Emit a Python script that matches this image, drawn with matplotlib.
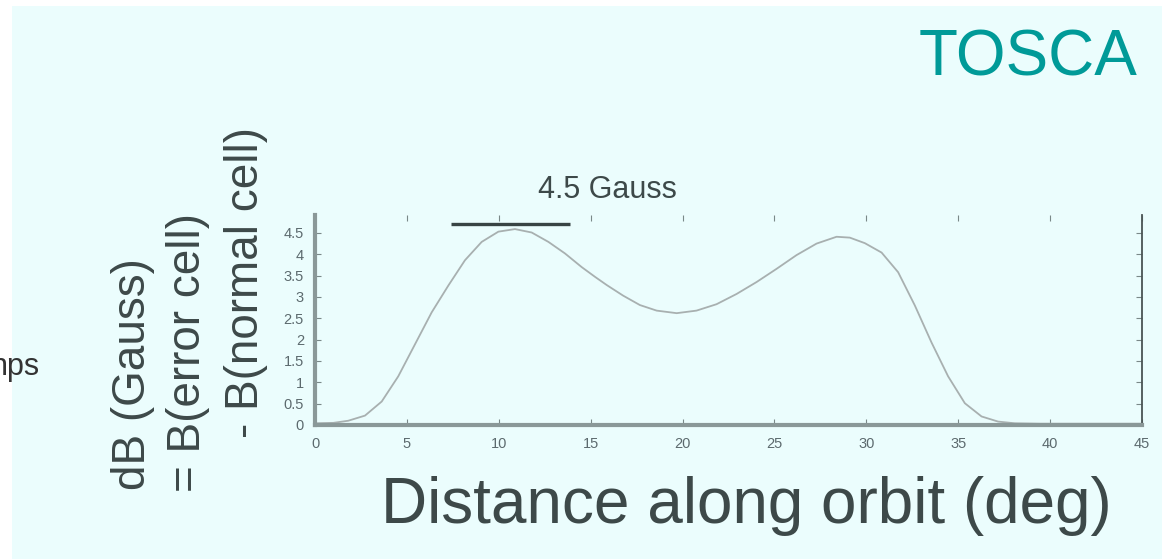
import numpy as np
import matplotlib
matplotlib.use("Agg")
import matplotlib.pyplot as plt
from matplotlib.patches import Rectangle

plt.rcParams['font.family'] = ['Liberation Sans', 'DejaVu Sans']

# field difference
dist_deg = [0, 1, 1.81, 2.72, 3.63, 4.53, 5.44, 6.35, 7.26, 8.16, 9.07,
            9.98, 10.88, 11.79, 12.7, 13.6, 14.51, 15.24, 15.87, 16.77,
            17.68, 18.59, 19.68, 20.76, 21.85, 22.94, 24.03, 25.12, 26.2,
            27.29, 28.38, 29.1, 29.92, 30.83, 31.73, 32.64, 33.55, 34.45,
            35.36, 36.27, 37.17, 38.08, 39.5, 45]
dB_gauss = [0.04, 0.05, 0.1, 0.22, 0.55, 1.14, 1.89, 2.64, 3.27, 3.86, 4.29,
            4.53, 4.59, 4.51, 4.29, 4.02, 3.7, 3.47, 3.28, 3.03, 2.81, 2.68,
            2.62, 2.68, 2.83, 3.07, 3.35, 3.66, 3.98, 4.25, 4.41, 4.39,
            4.26, 4.04, 3.58, 2.8, 1.93, 1.14, 0.51, 0.2, 0.08, 0.04, 0.03,
            0.03]

# width marker at the top
bar_x = [7.4, 13.9]
bar_y = [4.72, 4.72]

x_ticks = [0, 5, 10, 15, 20, 25, 30, 35, 40, 45]
y_ticks = [0, 0.5, 1, 1.5, 2, 2.5, 3, 3.5, 4, 4.5]
y_tick_labels = ['0', '0.5', '1', '1.5', '2', '2.5', '3', '3.5', '4', '4.5']

W, H = 1162, 559
bg = '#ebfdfd'
text_col = '#3d4949'

fig = plt.figure(figsize=(W / 100, H / 100), dpi=100)
fig.patch.set_facecolor('white')
fig.add_artist(Rectangle((12 / W, 0), 1 - 12 / W, 1 - 6 / H,
                         transform=fig.transFigure, facecolor=bg,
                         edgecolor='none', zorder=0))

ax = fig.add_axes([315 / W, 1 - 425 / H, 827 / W, 210 / H])
ax.patch.set_visible(False)

ax.plot(dist_deg, dB_gauss, color='#a8b0b0', lw=1.3, solid_joinstyle='round')
ax.plot(bar_x, bar_y, color='#384444', lw=2.4, solid_capstyle='butt',
        clip_on=False)

ax.set_xlim(0, 45)
ax.set_ylim(0, 4.92)
ax.set_xticks(x_ticks)
ax.set_yticks(y_ticks)
ax.set_yticklabels(y_tick_labels)

for side in ['left', 'bottom']:
    ax.spines[side].set_color('#8a9898')
    ax.spines[side].set_linewidth(3)
ax.spines['right'].set_color('#4a5454')
ax.spines['right'].set_linewidth(1.3)
ax.spines['top'].set_visible(False)

ax.tick_params(axis='both', direction='in', length=4, width=0.8,
               color='#7a8888', labelsize=10.5, labelcolor='#5c6a6e')
ax.tick_params(axis='x', top=True, pad=9)
ax.tick_params(axis='y', right=True, pad=8)

# annotation and titles
fig.text(607 / W, 1 - 198 / H, '4.5 Gauss', fontsize=22, color=text_col,
         ha='center', va='baseline')
fig.text(1137 / W, 1 - 75 / H, 'TOSCA', fontsize=46, color='#009a98',
         ha='right', va='baseline')
fig.text(746 / W, 1 - 523 / H, 'Distance along orbit (deg)', fontsize=46,
         color=text_col, ha='center', va='baseline')

ylab_lines = ['dB (Gauss)', '= B(error cell)', '- B(normal cell)']
ylab_x = [145, 200, 258]
ylab_y = [490, 492, 438]
for s, px, py in zip(ylab_lines, ylab_x, ylab_y):
    fig.text(px / W, 1 - py / H, s, fontsize=33, color=text_col,
             rotation=90, rotation_mode='anchor', ha='left', va='baseline')

# cut-off text from the slide's left edge
fig.text(40 / W, 1 - 375 / H, 'nps', fontsize=22, color='#333333',
         ha='right', va='baseline')

fig.savefig('out.png', dpi=100, facecolor=fig.get_facecolor())
